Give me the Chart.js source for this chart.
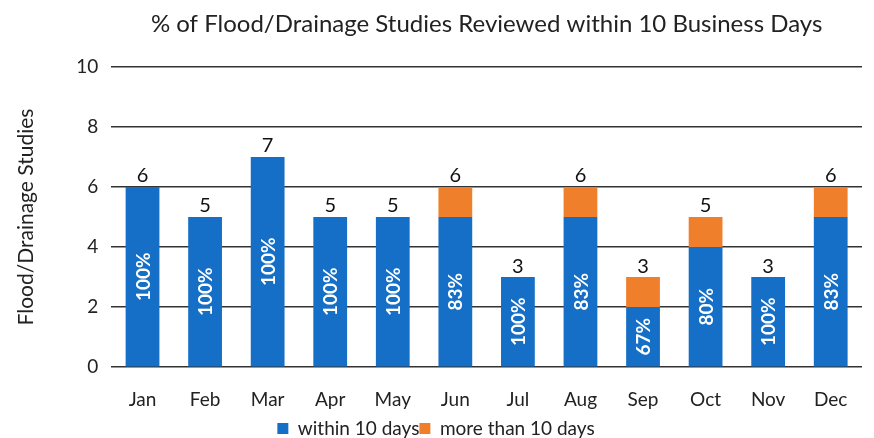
<!DOCTYPE html>
<html>
<head>
<meta charset="utf-8">
<script src="https://cdn.jsdelivr.net/npm/chart.js@4"></script>
<style>
  body { margin: 0; background: #fff; }
  #wrap { width: 874px; height: 438px; }
</style>
</head>
<body>
<div id="wrap"><canvas id="studies"></canvas></div>
<script>
// flood/drainage studies reviewed per month
var months = ['Jan','Feb','Mar','Apr','May','Jun','Jul','Aug','Sep','Oct','Nov','Dec'];
var within = [6, 5, 7, 5, 5, 5, 3, 5, 2, 4, 3, 5];
var moreThan = [0, 0, 0, 0, 0, 1, 0, 1, 1, 1, 0, 1];
var yTicks = [0, 2, 4, 6, 8, 10];

var font = "Lato, 'Open Sans', sans-serif";

// percent inside the blue bar, total above the stack
var barLabels = {
    id: 'barLabels',
    afterDatasetsDraw: function(chart) {
        var ctx = chart.ctx;
        var blue = chart.getDatasetMeta(0).data;
        var orange = chart.getDatasetMeta(1).data;
        ctx.save();
        for (var i = 0; i < months.length; i++) {
            var total = within[i] + moreThan[i];
            var pct = Math.round(within[i] / total * 100) + '%';
            var b = blue[i];
            var midY = (b.y + b.base) / 2;
            ctx.save();
            ctx.translate(b.x, midY);
            ctx.rotate(-Math.PI / 2);
            ctx.fillStyle = '#fff';
            ctx.font = 'bold 19px ' + font;
            ctx.textAlign = 'center';
            ctx.textBaseline = 'middle';
            ctx.fillText(pct, 0, 1);
            ctx.restore();

            var topY = moreThan[i] > 0 ? orange[i].y : b.y;
            ctx.fillStyle = '#111';
            ctx.font = '20px ' + font;
            ctx.textAlign = 'center';
            ctx.textBaseline = 'bottom';
            ctx.fillText(String(total), b.x, topY - 1);
        }
        ctx.restore();
    }
};

new Chart("studies", {
    type: "bar",
    data: {
        labels: months,
        datasets: [{
            label: "within 10 days",
            backgroundColor: "#166fc6",
            data: within
        }, {
            label: "more than 10 days",
            backgroundColor: "#f07f2c",
            data: moreThan
        }]
    },
    options: {
        responsive: true,
        maintainAspectRatio: false,
        animation: false,
        layout: { padding: { left: 10, right: 12, top: 0, bottom: -10 } },
        datasets: { bar: { barPercentage: 0.54, categoryPercentage: 1 } },
        plugins: {
            title: {
                display: true,
                fullSize: false,
                text: "% of Flood/Drainage Studies Reviewed within 10 Business Days",
                color: "#222",
                font: { family: font, size: 24, weight: 'normal' },
                padding: { top: 10, bottom: 28 }
            },
            legend: {
                position: "bottom",
                labels: {
                    color: "#222",
                    font: { family: font, size: 19 },
                    boxWidth: 11,
                    boxHeight: 11,
                    padding: 0
                }
            },
            tooltip: { enabled: false }
        },
        scales: {
            x: {
                stacked: true,
                grid: { display: false },
                border: { display: false },
                ticks: { color: "#222", font: { family: font, size: 19 }, padding: 13 },
                afterFit: function(axis) { axis.height -= 5; }
            },
            y: {
                stacked: true,
                min: 0,
                max: 10,
                afterBuildTicks: function(axis) {
                    axis.ticks = yTicks.map(function(v) { return { value: v }; });
                },
                grid: { color: "#333", lineWidth: 1.5, drawTicks: false },
                border: { display: false },
                ticks: { color: "#222", font: { family: font, size: 19 }, padding: 13 },
                title: {
                    display: true,
                    text: "Flood/Drainage Studies",
                    color: "#222",
                    font: { family: font, size: 21 },
                    padding: { bottom: 24 }
                }
            }
        }
    },
    plugins: [barLabels]
});
</script>
</body>
</html>
